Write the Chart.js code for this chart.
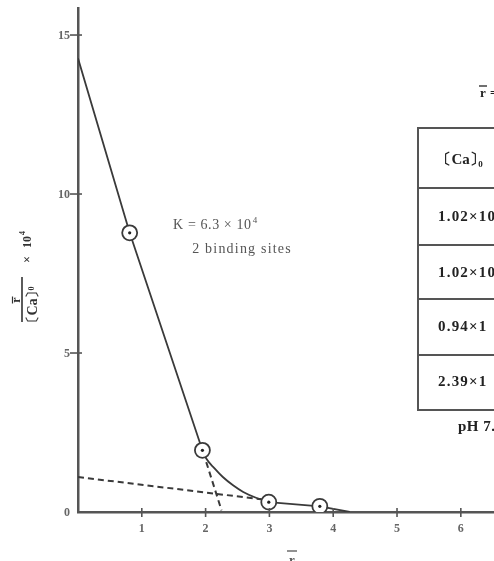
<!DOCTYPE html>
<html><head><meta charset="utf-8">
<script src="https://cdn.jsdelivr.net/npm/chart.js@4/dist/chart.umd.min.js"></script>
<style>html,body{margin:0;padding:0;background:#fff;overflow:hidden}#wrap{position:relative;width:494px;height:561px}</style>
</head><body><div id="wrap"><canvas id="c" width="494" height="561"></canvas></div>
<script>
// measured points (r-bar, r-bar/[Ca]0 x 10^4)
const rBar = [0.81, 1.95, 2.99, 3.79];
const rOverCa = [8.78, 1.94, 0.31, 0.18];
// drawn fit line
const fitSteepR = [0, 0.81, 1.95];
const fitSteepY = [14.27, 8.78, 1.94];
const fitCurveR = [1.95, 2.01, 2.14, 2.27, 2.43, 2.59, 2.80, 2.89, 2.99];
const fitCurveY = [1.94, 1.68, 1.37, 1.10, 0.84, 0.63, 0.44, 0.39, 0.33];
const fitTailR = [2.99, 3.79, 4.26];
const fitTailY = [0.31, 0.18, 0];
// dashed construction lines
const dashShallowR = [0, 2.87];
const dashShallowY = [1.10, 0.40];
const dashSteepR = [2.01, 2.25];
const dashSteepY = [1.57, 0.05];
// ticks
const xTickValues = [1, 2, 3, 4, 5, 6];
const yTickValues = [0, 5, 10, 15];
// texts
const kText = 'K = 6.3 × 10';
const kExp = '4';
const sitesText = '2 binding sites';
const caPieces = ['〔', 'Ca', '〕'];
const tableRows = ['1.02×10', '1.02×10', '0.94×1', '2.39×1'];
const tableFoot = 'pH 7.';

const pts = (xs, ys) => xs.map((x, i) => ({x, y: ys[i]}));
const INK = '#3a3a3a';
const SERIF = '"Liberation Serif", "DejaVu Serif", serif';

// draws pieces left to right, brackets placed by ink bounds (tight)
function drawTight(ctx, pieces, x, y) {
  pieces.forEach(p => {
    const m = ctx.measureText(p);
    if (p === '〔' || p === '〕') {
      ctx.fillText(p, x + m.actualBoundingBoxLeft, y);
      x += m.actualBoundingBoxLeft + m.actualBoundingBoxRight + 1.5;
    } else {
      ctx.fillText(p, x, y);
      x += m.width + 1;
    }
  });
  return x;
}

const decor = {
  id: 'decor',
  afterDraw(chart) {
    const ctx = chart.ctx, xs = chart.scales.x, ys = chart.scales.y;
    const x0 = xs.getPixelForValue(0), y0 = ys.getPixelForValue(0);
    ctx.save();
    ctx.strokeStyle = '#555'; ctx.lineWidth = 1.6;
    yTickValues.forEach(v => { if (v === 0) return; const p = ys.getPixelForValue(v);
      ctx.beginPath(); ctx.moveTo(x0 - 8, p); ctx.lineTo(x0 + 4, p); ctx.stroke(); });
    xTickValues.forEach(v => { const p = xs.getPixelForValue(v);
      ctx.beginPath(); ctx.moveTo(p, y0 - 4); ctx.lineTo(p, y0 + 5); ctx.stroke(); });
    // tick labels
    ctx.fillStyle = '#666'; ctx.font = 'bold 12px ' + SERIF;
    ctx.textAlign = 'right'; ctx.textBaseline = 'middle';
    yTickValues.forEach(v => ctx.fillText(String(v), x0 - 8, ys.getPixelForValue(v) + 1));
    ctx.textAlign = 'center';
    xTickValues.forEach(v => ctx.fillText(String(v), xs.getPixelForValue(v), y0 + 17));
    ctx.restore();

    // annotation
    ctx.save();
    ctx.fillStyle = '#555'; ctx.textBaseline = 'middle'; ctx.textAlign = 'left';
    ctx.font = '14px ' + SERIF;
    ctx.letterSpacing = '0.6px';
    let ax = xs.getPixelForValue(1.49), ay = ys.getPixelForValue(9.0);
    ctx.fillText(kText, ax, ay);
    const kw = ctx.measureText(kText).width;
    ctx.font = '9px ' + SERIF;
    ctx.fillText(kExp, ax + kw + 1, ay - 5);
    ctx.font = '14px ' + SERIF;
    ctx.letterSpacing = '1.2px';
    ctx.fillText(sitesText, xs.getPixelForValue(1.79), ys.getPixelForValue(8.27));
    ctx.restore();

    // table (cut off by right edge)
    ctx.save();
    ctx.strokeStyle = '#555'; ctx.lineWidth = 2;
    const tl = 418, tt = 128, tb = 410;
    ctx.strokeRect(tl, tt, 200, tb - tt);
    [188, 245, 299, 355].forEach(yy => { ctx.beginPath(); ctx.moveTo(tl, yy); ctx.lineTo(520, yy); ctx.stroke(); });
    ctx.fillStyle = '#222'; ctx.textBaseline = 'middle'; ctx.textAlign = 'left';
    ctx.font = 'bold 15px ' + SERIF;
    const hx = drawTight(ctx, caPieces, 445, 160);
    ctx.font = 'bold 9px ' + SERIF;
    ctx.fillText('0', hx + 1, 165);
    ctx.font = 'bold 15px ' + SERIF;
    ctx.letterSpacing = '1.2px';
    [217, 273, 327, 382].forEach((yy, i) => ctx.fillText(tableRows[i], 438, yy));
    ctx.letterSpacing = '0.5px';
    ctx.fillText(tableFoot, 458, 427);
    ctx.letterSpacing = '0px';
    ctx.font = 'bold 13px ' + SERIF;
    ctx.fillText('r', 480, 94);
    ctx.lineWidth = 1.3; ctx.strokeStyle = '#222';
    ctx.beginPath(); ctx.moveTo(479, 86); ctx.lineTo(487, 86); ctx.stroke();
    ctx.fillText('=', 490, 94);
    ctx.restore();

    // x title r-bar
    ctx.save();
    ctx.fillStyle = '#555'; ctx.strokeStyle = '#555'; ctx.lineWidth = 1.3;
    ctx.font = 'bold 13px ' + SERIF; ctx.textAlign = 'center'; ctx.textBaseline = 'alphabetic';
    ctx.fillText('r', 292, 564);
    ctx.beginPath(); ctx.moveTo(287, 551); ctx.lineTo(297, 551); ctx.stroke();
    ctx.restore();

    // y title: r-bar / [Ca]0 x 10^4 (rotated)
    ctx.save();
    ctx.translate(22, 300); ctx.rotate(-Math.PI / 2);
    ctx.fillStyle = '#333'; ctx.strokeStyle = '#333';
    ctx.lineWidth = 1.6;
    ctx.beginPath(); ctx.moveTo(-22, 0); ctx.lineTo(23, 0); ctx.stroke();
    ctx.font = 'bold 12px ' + SERIF;
    ctx.textAlign = 'center'; ctx.textBaseline = 'alphabetic';
    ctx.fillText('r', 0, -2);
    ctx.lineWidth = 1.2;
    ctx.beginPath(); ctx.moveTo(-3.5, -9.5); ctx.lineTo(3.5, -9.5); ctx.stroke();
    ctx.textAlign = 'left'; ctx.textBaseline = 'top';
    ctx.font = 'bold 14px ' + SERIF;
    const dx = drawTight(ctx, caPieces, -22, 4);
    ctx.font = 'bold 8px ' + SERIF;
    ctx.fillText('0', dx + 0.5, 6);
    ctx.font = 'bold 12px ' + SERIF;
    ctx.textBaseline = 'middle';
    ctx.fillText('×', 37, 6);
    ctx.fillText('10', 52, 6);
    const tw = ctx.measureText('10').width;
    ctx.font = 'bold 8px ' + SERIF;
    ctx.fillText('4', 52 + tw + 1, 1);
    ctx.restore();
  }
};

new Chart(document.getElementById('c'), {
  type: 'line',
  data: {
    datasets: [
      { data: pts(rBar, rOverCa), showLine: false, pointRadius: 7.5, pointBorderWidth: 1.8,
        pointBorderColor: INK, pointBackgroundColor: '#fff', order: 1 },
      { data: pts(rBar, rOverCa), showLine: false, pointRadius: 1.6, pointBorderWidth: 0,
        pointBackgroundColor: '#222', order: 0 },
      { data: pts(fitSteepR, fitSteepY), borderColor: INK, borderWidth: 1.8, pointRadius: 0, order: 5 },
      { data: pts(fitCurveR, fitCurveY), borderColor: INK, borderWidth: 1.8, pointRadius: 0,
        cubicInterpolationMode: 'monotone', order: 5 },
      { data: pts(fitTailR, fitTailY), borderColor: INK, borderWidth: 1.8, pointRadius: 0, order: 5 },
      { data: pts(dashShallowR, dashShallowY), borderColor: INK, borderWidth: 2, borderDash: [6, 4], pointRadius: 0, order: 6 },
      { data: pts(dashSteepR, dashSteepY), borderColor: INK, borderWidth: 2, borderDash: [6, 4], pointRadius: 0, order: 6 }
    ]
  },
  options: {
    responsive: false, animation: false, events: [],
    layout: { autoPadding: false, padding: { left: 0, right: 0, top: 8, bottom: 0 } },
    plugins: { legend: { display: false }, tooltip: { enabled: false } },
    scales: {
      x: { type: 'linear', min: 0, max: 6.52,
        afterBuildTicks: s => { s.ticks = xTickValues.map(v => ({ value: v })); },
        afterFit: s => { s.height = 49; },
        grid: { display: false, drawTicks: false },
        border: { display: true, color: '#555', width: 2.5 },
        ticks: { display: false } },
      y: { type: 'linear', min: 0, max: 15.85,
        afterBuildTicks: s => { s.ticks = yTickValues.map(v => ({ value: v })); },
        afterFit: s => { s.width = 78; },
        grid: { display: false, drawTicks: false },
        border: { display: true, color: '#555', width: 2.5 },
        ticks: { display: false } }
    }
  },
  plugins: [decor]
});
</script></body></html>
